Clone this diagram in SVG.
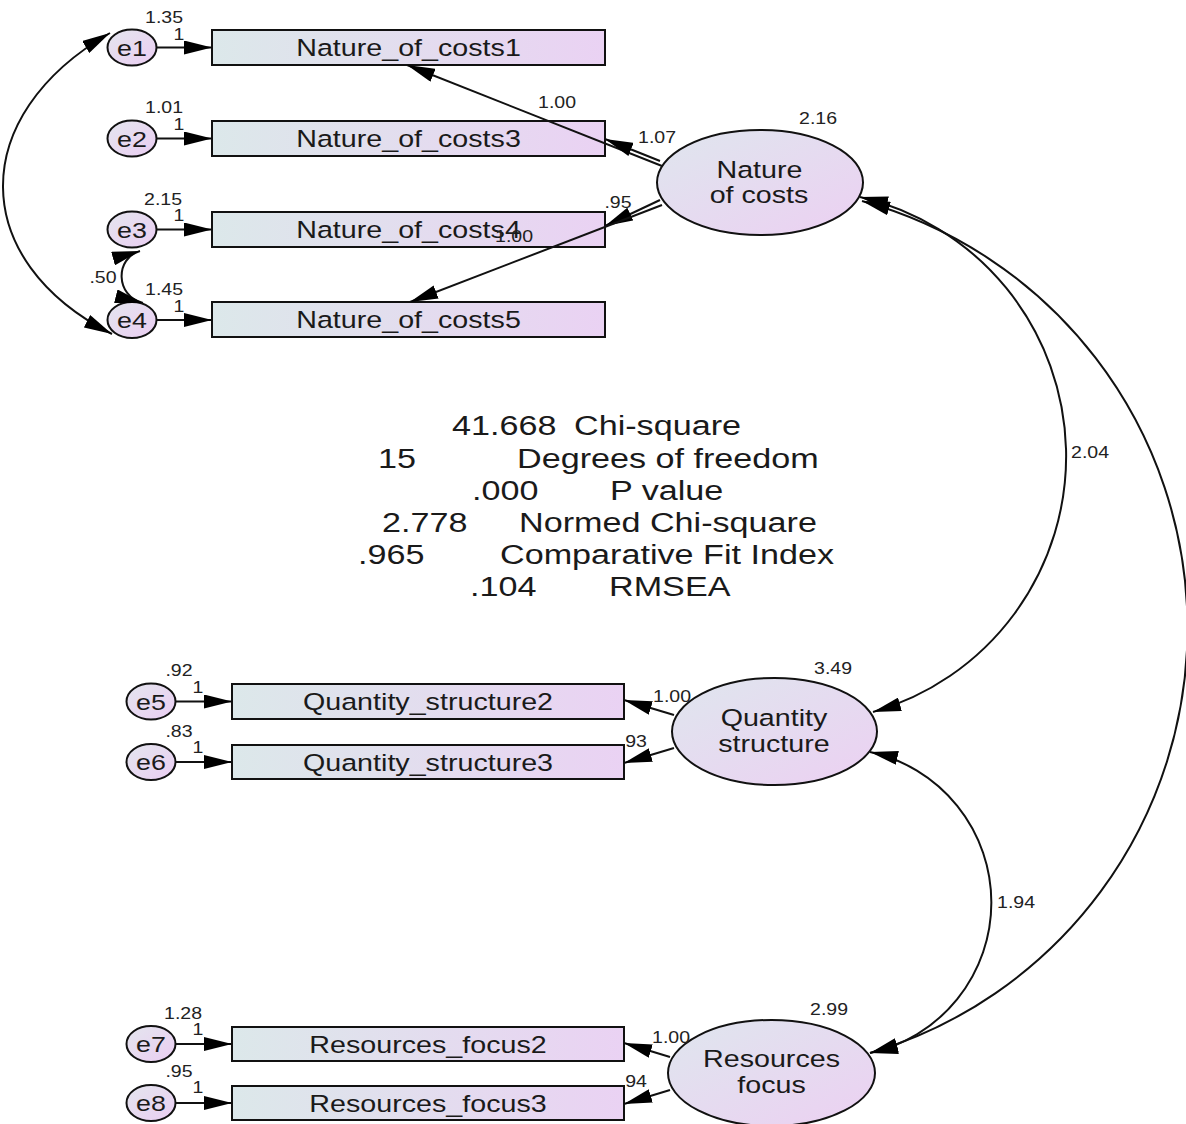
<svg xmlns="http://www.w3.org/2000/svg" width="1186" height="1124" viewBox="0 0 1186 1124">
  <style>
    .box { stroke: #111; stroke-width: 2; fill: url(#boxFill); }
    .lat { stroke: #111; stroke-width: 2; fill: url(#latFill); }
    .err { stroke: #111; stroke-width: 2; fill: url(#errFill); }
    .t { font-family: "Liberation Sans", Arial, sans-serif; fill: #1a1a1a; }
    .bt { font-size: 23.5px; }
    .et { font-size: 22px; }
    .n { font-size: 16px; fill: #222; }
    .fit { font-size: 28px; }
    .c { text-anchor: middle; }
    .edge { fill: none; stroke: #111; stroke-width: 2; }
    .one { marker-end: url(#ah); }
    .two { marker-start: url(#ah); marker-end: url(#ah); }
  </style>
  <defs>
    <linearGradient id="boxFill" x1="0" y1="0" x2="1" y2="0">
      <stop offset="0" stop-color="#dce8ea"/>
      <stop offset="1" stop-color="#ead2f3"/>
    </linearGradient>
    <linearGradient id="latFill" x1="0" y1="0" x2="1" y2="1">
      <stop offset="0" stop-color="#dfe6ee"/>
      <stop offset="1" stop-color="#ecd0f2"/>
    </linearGradient>
    <linearGradient id="errFill" x1="0" y1="0" x2="1" y2="1">
      <stop offset="0" stop-color="#e4e6ee"/>
      <stop offset="1" stop-color="#eacdf2"/>
    </linearGradient>
    <marker id="ah" viewBox="0 0 28 14" refX="28" refY="7" markerWidth="28" markerHeight="14" markerUnits="userSpaceOnUse" orient="auto-start-reverse">
      <path d="M0,0 L28,7 L0,14 z" fill="#000"/>
    </marker>
  </defs>

  <rect width="1186" height="1124" fill="#fff"/>

  <!-- indicators -->
  <g id="Nature_of_costs1">
    <rect class="box" x="212" y="30" width="393" height="35"/>
    <text class="t bt c" transform="matrix(1.22 0 0 1 408.5 56)">Nature_of_costs1</text>
  </g>
  <g id="Nature_of_costs3">
    <rect class="box" x="212" y="121" width="393" height="35"/>
    <text class="t bt c" transform="matrix(1.22 0 0 1 408.5 147)">Nature_of_costs3</text>
  </g>
  <g id="Nature_of_costs4">
    <rect class="box" x="212" y="212" width="393" height="35"/>
    <text class="t bt c" transform="matrix(1.22 0 0 1 408.5 238)">Nature_of_costs4</text>
  </g>
  <g id="Nature_of_costs5">
    <rect class="box" x="212" y="302" width="393" height="35"/>
    <text class="t bt c" transform="matrix(1.22 0 0 1 408.5 328)">Nature_of_costs5</text>
  </g>
  <g id="Quantity_structure2">
    <rect class="box" x="232" y="684" width="392" height="35"/>
    <text class="t bt c" transform="matrix(1.22 0 0 1 428 710)">Quantity_structure2</text>
  </g>
  <g id="Quantity_structure3">
    <rect class="box" x="232" y="745" width="392" height="34"/>
    <text class="t bt c" transform="matrix(1.22 0 0 1 428 770.5)">Quantity_structure3</text>
  </g>
  <g id="Resources_focus2">
    <rect class="box" x="232" y="1027" width="392" height="34"/>
    <text class="t bt c" transform="matrix(1.22 0 0 1 428 1052.5)">Resources_focus2</text>
  </g>
  <g id="Resources_focus3">
    <rect class="box" x="232" y="1086" width="392" height="34"/>
    <text class="t bt c" transform="matrix(1.22 0 0 1 428 1111.5)">Resources_focus3</text>
  </g>

  <!-- latent factors -->
  <g id="Nature_of_costs">
    <ellipse class="lat" cx="760" cy="182.5" rx="103" ry="52.5"/>
    <text class="t bt c" transform="matrix(1.22 0 0 1 759.5 178)">Nature</text>
    <text class="t bt c" transform="matrix(1.22 0 0 1 759 203)">of costs</text>
  </g>
  <g id="Quantity_structure">
    <ellipse class="lat" cx="774.5" cy="731.5" rx="102.5" ry="53.5"/>
    <text class="t bt c" transform="matrix(1.22 0 0 1 774 726)">Quantity</text>
    <text class="t bt c" transform="matrix(1.22 0 0 1 774 752)">structure</text>
  </g>
  <g id="Resources_focus">
    <ellipse class="lat" cx="771.5" cy="1073" rx="103.5" ry="53"/>
    <text class="t bt c" transform="matrix(1.22 0 0 1 771.5 1067)">Resources</text>
    <text class="t bt c" transform="matrix(1.22 0 0 1 771.5 1093)">focus</text>
  </g>

  <!-- error terms -->
  <g id="e1">
    <ellipse class="err" cx="132" cy="47.5" rx="24.5" ry="18"/>
    <text class="t et c" transform="matrix(1.22 0 0 1 132 55.5)">e1</text>
  </g>
  <g id="e2">
    <ellipse class="err" cx="132" cy="138.5" rx="24.5" ry="18"/>
    <text class="t et c" transform="matrix(1.22 0 0 1 132 146.5)">e2</text>
  </g>
  <g id="e3">
    <ellipse class="err" cx="132" cy="229.5" rx="24.5" ry="18"/>
    <text class="t et c" transform="matrix(1.22 0 0 1 132 237.5)">e3</text>
  </g>
  <g id="e4">
    <ellipse class="err" cx="132" cy="320" rx="24.5" ry="18"/>
    <text class="t et c" transform="matrix(1.22 0 0 1 132 328)">e4</text>
  </g>
  <g id="e5">
    <ellipse class="err" cx="151" cy="701.5" rx="24.5" ry="18"/>
    <text class="t et c" transform="matrix(1.22 0 0 1 151 709.5)">e5</text>
  </g>
  <g id="e6">
    <ellipse class="err" cx="151" cy="762" rx="24.5" ry="18"/>
    <text class="t et c" transform="matrix(1.22 0 0 1 151 770)">e6</text>
  </g>
  <g id="e7">
    <ellipse class="err" cx="151" cy="1044" rx="24.5" ry="18"/>
    <text class="t et c" transform="matrix(1.22 0 0 1 151 1052)">e7</text>
  </g>
  <g id="e8">
    <ellipse class="err" cx="151" cy="1103" rx="24.5" ry="18"/>
    <text class="t et c" transform="matrix(1.22 0 0 1 151 1111)">e8</text>
  </g>

  <!-- connectors: loadings, error paths and covariances -->
  <g id="connectors">
    <!-- error terms to indicators -->
    <path class="edge one" d="M157,47.5 L212,47.5"/>
    <path class="edge one" d="M157,138.5 L212,138.5"/>
    <path class="edge one" d="M157,229.5 L212,229.5"/>
    <path class="edge one" d="M157,320 L212,320"/>
    <path class="edge one" d="M175.5,701.5 L232,701.5"/>
    <path class="edge one" d="M175.5,762 L232,762"/>
    <path class="edge one" d="M175.5,1044 L232,1044"/>
    <path class="edge one" d="M175.5,1103 L232,1103"/>
    <!-- Nature of costs loadings -->
    <path class="edge one" d="M662,166 L407,65"/>
    <path class="edge one" d="M660,161 L605,139"/>
    <path class="edge one" d="M660,200 L605,226"/>
    <path class="edge one" d="M662,205 L410,302"/>
    <!-- Quantity structure loadings -->
    <path class="edge one" d="M674,715 L624,700"/>
    <path class="edge one" d="M674,748 L624,763"/>
    <!-- Resources focus loadings -->
    <path class="edge one" d="M670,1057 L624,1043"/>
    <path class="edge one" d="M670,1090 L624,1104"/>
    <!-- error covariances -->
    <path class="edge two" d="M110,33 C-34,116 -32,261 112,334"/>
    <path class="edge two" d="M140,251 C115,258 115,296 143,303"/>
    <!-- factor covariances -->
    <path class="edge two" d="M860,197 A266,266 0 0 1 873,712"/>
    <path class="edge two" d="M862,201 A443,443 0 0 1 870,1053"/>
    <path class="edge two" d="M870,752 A154,154 0 0 1 870,1053"/>
  </g>

  <!-- estimates -->
  <g id="estimates">
    <text class="t n c" transform="matrix(1.22 0 0 1 164 23)">1.35</text>
    <text class="t n c" transform="matrix(1.22 0 0 1 179 40)">1</text>
    <text class="t n c" transform="matrix(1.22 0 0 1 164 113)">1.01</text>
    <text class="t n c" transform="matrix(1.22 0 0 1 179 130)">1</text>
    <text class="t n c" transform="matrix(1.22 0 0 1 163 205)">2.15</text>
    <text class="t n c" transform="matrix(1.22 0 0 1 179 221)">1</text>
    <text class="t n c" transform="matrix(1.22 0 0 1 103 283)">.50</text>
    <text class="t n c" transform="matrix(1.22 0 0 1 164 295)">1.45</text>
    <text class="t n c" transform="matrix(1.22 0 0 1 179 312)">1</text>
    <text class="t n c" transform="matrix(1.22 0 0 1 557 108)">1.00</text>
    <text class="t n c" transform="matrix(1.22 0 0 1 657 143)">1.07</text>
    <text class="t n c" transform="matrix(1.22 0 0 1 618 208)">.95</text>
    <text class="t n c" transform="matrix(1.22 0 0 1 514 242)">1.00</text>
    <text class="t n c" transform="matrix(1.22 0 0 1 818 124)">2.16</text>
    <text class="t n c" transform="matrix(1.22 0 0 1 1090 458)">2.04</text>
    <text class="t n c" transform="matrix(1.22 0 0 1 833 674)">3.49</text>
    <text class="t n c" transform="matrix(1.22 0 0 1 672 702)">1.00</text>
    <text class="t n c" transform="matrix(1.22 0 0 1 636 747)">93</text>
    <text class="t n c" transform="matrix(1.22 0 0 1 179 676)">.92</text>
    <text class="t n c" transform="matrix(1.22 0 0 1 198 693)">1</text>
    <text class="t n c" transform="matrix(1.22 0 0 1 179 737)">.83</text>
    <text class="t n c" transform="matrix(1.22 0 0 1 198 753)">1</text>
    <text class="t n c" transform="matrix(1.22 0 0 1 1016 908)">1.94</text>
    <text class="t n c" transform="matrix(1.22 0 0 1 829 1015)">2.99</text>
    <text class="t n c" transform="matrix(1.22 0 0 1 671 1043)">1.00</text>
    <text class="t n c" transform="matrix(1.22 0 0 1 636 1087)">94</text>
    <text class="t n c" transform="matrix(1.22 0 0 1 183 1019)">1.28</text>
    <text class="t n c" transform="matrix(1.22 0 0 1 198 1035)">1</text>
    <text class="t n c" transform="matrix(1.22 0 0 1 179 1077)">.95</text>
    <text class="t n c" transform="matrix(1.22 0 0 1 198 1093)">1</text>
  </g>

  <!-- model fit summary -->
  <g id="fit_summary">
    <text class="t fit" transform="matrix(1.22 0 0 1 452 435)">41.668</text>
    <text class="t fit" transform="matrix(1.22 0 0 1 574 435)">Chi-square</text>
    <text class="t fit" transform="matrix(1.22 0 0 1 378 468)">15</text>
    <text class="t fit" transform="matrix(1.22 0 0 1 517 468)">Degrees of freedom</text>
    <text class="t fit" transform="matrix(1.22 0 0 1 472 500)">.000</text>
    <text class="t fit" transform="matrix(1.22 0 0 1 610 500)">P value</text>
    <text class="t fit" transform="matrix(1.22 0 0 1 382 532)">2.778</text>
    <text class="t fit" transform="matrix(1.22 0 0 1 519 532)">Normed Chi-square</text>
    <text class="t fit" transform="matrix(1.22 0 0 1 358 564)">.965</text>
    <text class="t fit" transform="matrix(1.22 0 0 1 500 564)">Comparative Fit Index</text>
    <text class="t fit" transform="matrix(1.22 0 0 1 470 596)">.104</text>
    <text class="t fit" transform="matrix(1.22 0 0 1 609 596)">RMSEA</text>
  </g>
</svg>
